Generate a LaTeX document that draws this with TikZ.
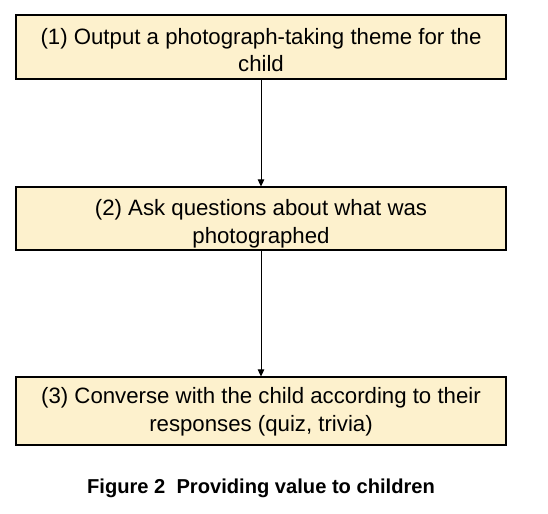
\documentclass[tikz,border=0pt]{standalone}
\usepackage{fontspec}
\setmainfont{Liberation Sans}
\usetikzlibrary{arrows.meta}
\definecolor{boxfill}{HTML}{FDF1CD}
\tikzset{
  stepbox/.style={draw=black, line width=1.1bp, fill=boxfill, minimum width=490bp, align=center, inner sep=0pt, font=\fontsize{22.3}{28}\selectfont},
  conn/.style={line width=0.8bp, -{Triangle[length=7bp,width=6.5bp]}}
}
\begin{document}
\begin{tikzpicture}[x=1bp,y=-1bp]
\useasboundingbox (0,0) rectangle (548,514);
\node[stepbox, minimum height=64bp, text height=57bp, text depth=7bp] (s1) at (261,47) {(1) Output a photograph-taking theme for the\\child};
\node[stepbox, minimum height=63bp, text height=56.3bp, text depth=6.7bp] (s2) at (261,218.5) {(2) Ask questions about what was\\photographed};
\node[stepbox, minimum height=68bp, text height=54bp, text depth=14bp] (s3) at (261,411) {(3) Converse with the child according to their\\responses (quiz, trivia)};
\draw[conn] (s1) -- (s2);
\draw[conn] (s2) -- (s3);
\node[font=\bfseries\fontsize{20.2}{24}\selectfont, anchor=base] (cap) at (261,493) {Figure 2\ \ Providing value to children};
\end{tikzpicture}
\end{document}
